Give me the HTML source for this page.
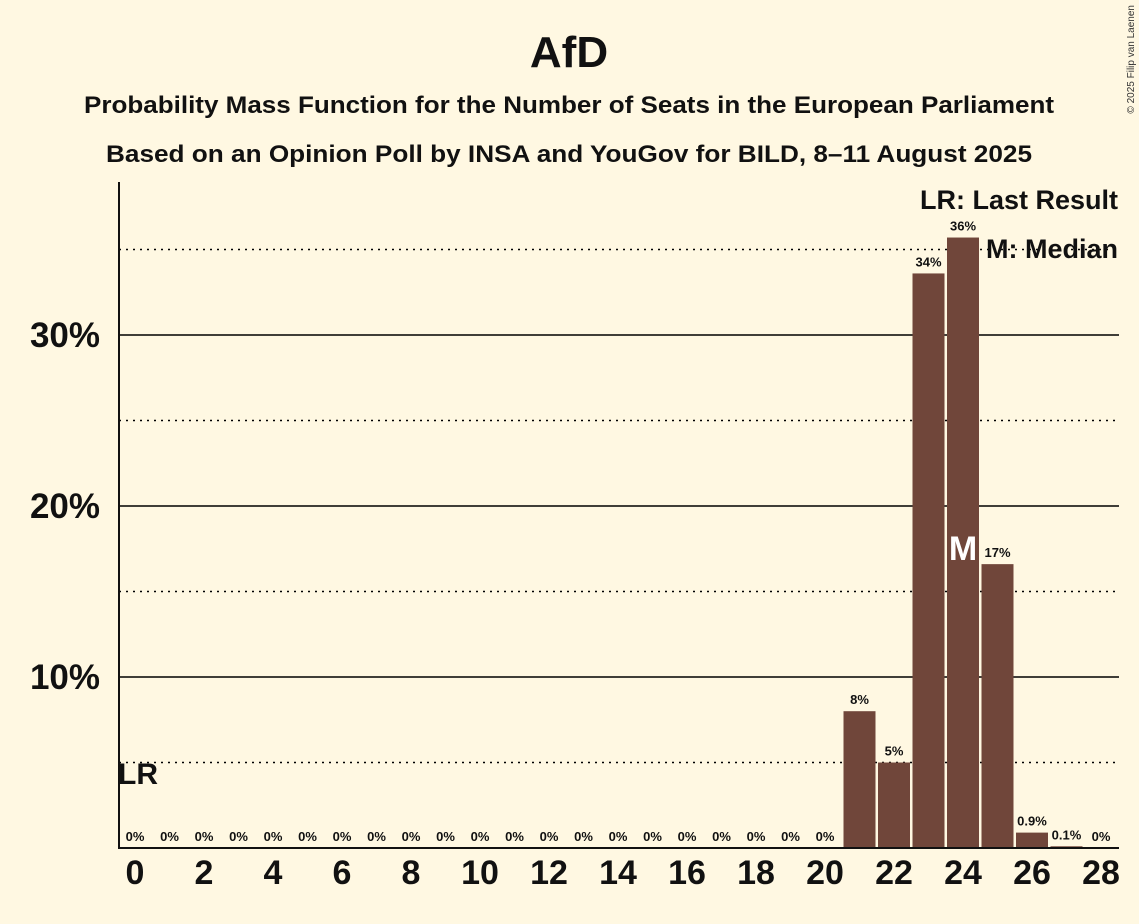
<!DOCTYPE html>
<html><head><meta charset="utf-8"><style>
body{margin:0;background:#fff8e2;}
svg{display:block;font-family:"Liberation Sans",sans-serif;}
</style></head><body>
<svg id="chart" width="1139" height="924" viewBox="0 0 1139 924">
<rect width="1139" height="924" fill="#fff8e2"/>
<text x="569" y="67" text-anchor="middle" font-size="44" font-weight="bold" fill="#111">AfD</text>
<text x="569" y="113" text-anchor="middle" font-size="24" font-weight="bold" fill="#111" textLength="970" lengthAdjust="spacingAndGlyphs">Probability Mass Function for the Number of Seats in the European Parliament</text>
<text x="569" y="162" text-anchor="middle" font-size="24" font-weight="bold" fill="#111" textLength="926" lengthAdjust="spacingAndGlyphs">Based on an Opinion Poll by INSA and YouGov for BILD, 8–11 August 2025</text>
<text x="1134" y="5" transform="rotate(-90 1134 5)" text-anchor="end" font-size="10" fill="#333">© 2025 Filip van Laenen</text>
<g id="grid"></g><g id="bars"></g><g id="xt"></g>
<line x1="119" y1="182" x2="119" y2="849" stroke="#111" stroke-width="2"/>
<line x1="118" y1="848" x2="1119" y2="848" stroke="#111" stroke-width="2"/>
<text x="118" y="784" font-size="30" font-weight="bold" fill="#111">LR</text>
<text x="1118" y="209" text-anchor="end" font-size="27" font-weight="bold" fill="#111">LR: Last Result</text>
<text x="1118" y="258" text-anchor="end" font-size="27" font-weight="bold" fill="#111">M: Median</text>
</svg>
<script>
const seats=[0,1,2,3,4,5,6,7,8,9,10,11,12,13,14,15,16,17,18,19,20,21,22,23,24,25,26,27,28];
const probs=[0,0,0,0,0,0,0,0,0,0,0,0,0,0,0,0,0,0,0,0,0,8.0,5.0,33.6,35.7,16.6,0.9,0.1,0];
const labels=["0%","0%","0%","0%","0%","0%","0%","0%","0%","0%","0%","0%","0%","0%","0%","0%","0%","0%","0%","0%","0%","8%","5%","34%","36%","17%","0.9%","0.1%","0%"];
const yTicks=[10,20,30];
const yMinor=[5,15,25,35];
const medianSeat=24;
const NS="http://www.w3.org/2000/svg";
const x=s=>135+s*34.5;
const y=v=>848-v*17.1;
function mk(t,a,p){const e=document.createElementNS(NS,t);for(const k in a)e.setAttribute(k,a[k]);p.appendChild(e);return e;}
const grid=document.getElementById('grid'),bars=document.getElementById('bars'),xt=document.getElementById('xt');
yMinor.forEach(v=>{const l=mk('line',{x1:119,x2:1119,y1:y(v),y2:y(v),stroke:'#000','stroke-width':1.5,'stroke-dasharray':'2,5'},grid);

});
yTicks.forEach(v=>{const l=mk('line',{x1:119,x2:1119,y1:y(v),y2:y(v),stroke:'#000','stroke-width':1.5},grid);


const t=mk('text',{x:100,y:y(v)+12,'text-anchor':'end','font-size':35,'font-weight':'bold',fill:'#111'},grid);t.textContent=v+'%';

});
seats.forEach((s,i)=>{const v=probs[i];
if(v>0){const r=mk('rect',{x:x(s)-16,y:y(v),width:32,height:848-y(v),fill:'#70463a'},bars);

}
const t=mk('text',{x:x(s),y:y(v)-7,'text-anchor':'middle','font-size':13,'font-weight':'bold',fill:'#111'},bars);t.textContent=labels[i];


if(s%2===0){const k=mk('text',{x:x(s),y:884,'text-anchor':'middle','font-size':34,'font-weight':'bold',fill:'#111'},xt);k.textContent=s;

}
});
const m=mk('text',{x:x(medianSeat),y:560,'text-anchor':'middle','font-size':34,'font-weight':'bold',fill:'#fff'},bars);m.textContent='M';


</script>
</body></html>
